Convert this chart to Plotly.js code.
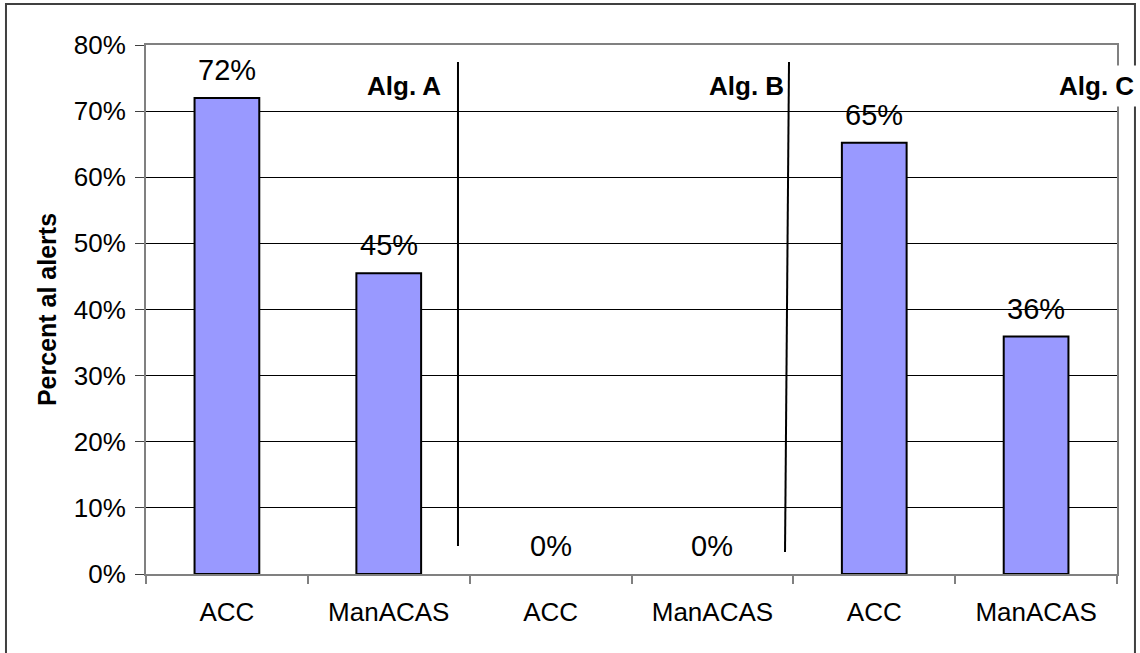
<!DOCTYPE html>
<html>
<head>
<meta charset="utf-8">
<script src="https://cdn.plot.ly/plotly-3.0.1.min.js"></script>
<style>
  html, body { margin: 0; padding: 0; background: #ffffff; }
  #chart { width: 1140px; height: 653px; }
</style>
</head>
<body>
<div id="chart"></div>
<script>
// ---- data ----
const categories = ["ACC", "ManACAS", "ACC", "ManACAS", "ACC", "ManACAS"];
const values = [0.72, 0.455, 0, 0, 0.652, 0.359];
const valueLabels = ["72%", "45%", "0%", "0%", "65%", "36%"];
const groupLabels = ["Alg. A", "Alg. B", "Alg. C"];
const yTickVals = [0, 0.1, 0.2, 0.3, 0.4, 0.5, 0.6, 0.7, 0.8];
const yTickText = ["0%", "10%", "20%", "30%", "40%", "50%", "60%", "70%", "80%"];
const yTitle = "Percent al alerts";

// ---- build ----
const xIdx = categories.map((_, i) => i);
const boundaries = [];
for (let i = 0; i <= categories.length; i++) boundaries.push(i - 0.5);

const FONT = "Liberation Sans, Arial, sans-serif";

const trace = {
  type: "bar",
  x: xIdx,
  y: values,
  width: 0.4,
  marker: {
    color: "#9999FF",
    line: { color: "#000000", width: values.map(v => (v > 0 ? 2 : 0)) }
  },
  hoverinfo: "skip"
};

const annotations = values.map((v, i) => ({
  x: i, y: v, xref: "x", yref: "y",
  text: valueLabels[i],
  showarrow: false,
  yanchor: "bottom",
  yshift: 10,
  font: { family: FONT, size: 29, color: "#000000" }
}));

const algPos = [
  { x: 0.3059 },
  { x: 0.6591 },
  { x: 1.0235, bg: true }
];
groupLabels.forEach((t, i) => {
  const a = {
    x: algPos[i].x, y: 0.9225, xref: "paper", yref: "paper",
    xanchor: "right", yanchor: "middle",
    text: "<b>" + t + "</b>",
    showarrow: false,
    font: { family: FONT, size: 26, color: "#000000" }
  };
  if (algPos[i].bg) { a.bgcolor = "#ffffff"; a.borderpad = 5; }
  annotations.push(a);
});

const shapes = [
  // outer chart border
  { type: "rect", xref: "paper", yref: "paper",
    x0: -0.1442, x1: 1.0185, y0: -0.17, y1: 1.0775,
    line: { color: "#404040", width: 2 }, layer: "below" },
  // separator lines
  { type: "line", xref: "paper", yref: "paper",
    x0: 0.3213, x1: 0.3213, y0: 0.0529, y1: 0.9679,
    line: { color: "#000000", width: 2 } },
  { type: "line", xref: "paper", yref: "paper",
    x0: 0.6581, x1: 0.6622, y0: 0.0416, y1: 0.9679,
    line: { color: "#000000", width: 2 } }
];

const layout = {
  width: 1140, height: 653,
  margin: { l: 146, r: 23, t: 45, b: 79 },
  paper_bgcolor: "#ffffff",
  plot_bgcolor: "#ffffff",
  showlegend: false,
  font: { family: FONT, color: "#000000" },
  xaxis: {
    range: [-0.5, categories.length - 0.5],
    tickmode: "array",
    tickvals: xIdx,
    ticktext: categories,
    ticks: "",
    ticklabelstandoff: 14,
    tickfont: { family: FONT, size: 26, color: "#000000" },
    showgrid: false,
    zeroline: false,
    showline: true, mirror: true,
    linecolor: "#808080", linewidth: 2,
    minor: {
      tickmode: "array",
      tickvals: boundaries,
      ticks: "outside", ticklen: 8, tickwidth: 2, tickcolor: "#808080",
      showgrid: false
    },
    fixedrange: true
  },
  yaxis: {
    range: [0, 0.8],
    tickmode: "array",
    tickvals: yTickVals,
    ticktext: yTickText,
    ticks: "outside", ticklen: 9, tickwidth: 1, tickcolor: "#404040",
    ticklabelstandoff: 4,
    tickfont: { family: FONT, size: 26, color: "#000000" },
    showgrid: true, gridcolor: "#000000", gridwidth: 1,
    zeroline: false,
    showline: true, mirror: true,
    linecolor: "#808080", linewidth: 2,
    title: { text: "<b>" + yTitle + "</b>", font: { family: FONT, size: 25, color: "#000000" }, standoff: 10 },
    fixedrange: true
  },
  annotations: annotations,
  shapes: shapes
};

Plotly.newPlot("chart", [trace], layout, { displayModeBar: false, staticPlot: true });
</script>
</body>
</html>
